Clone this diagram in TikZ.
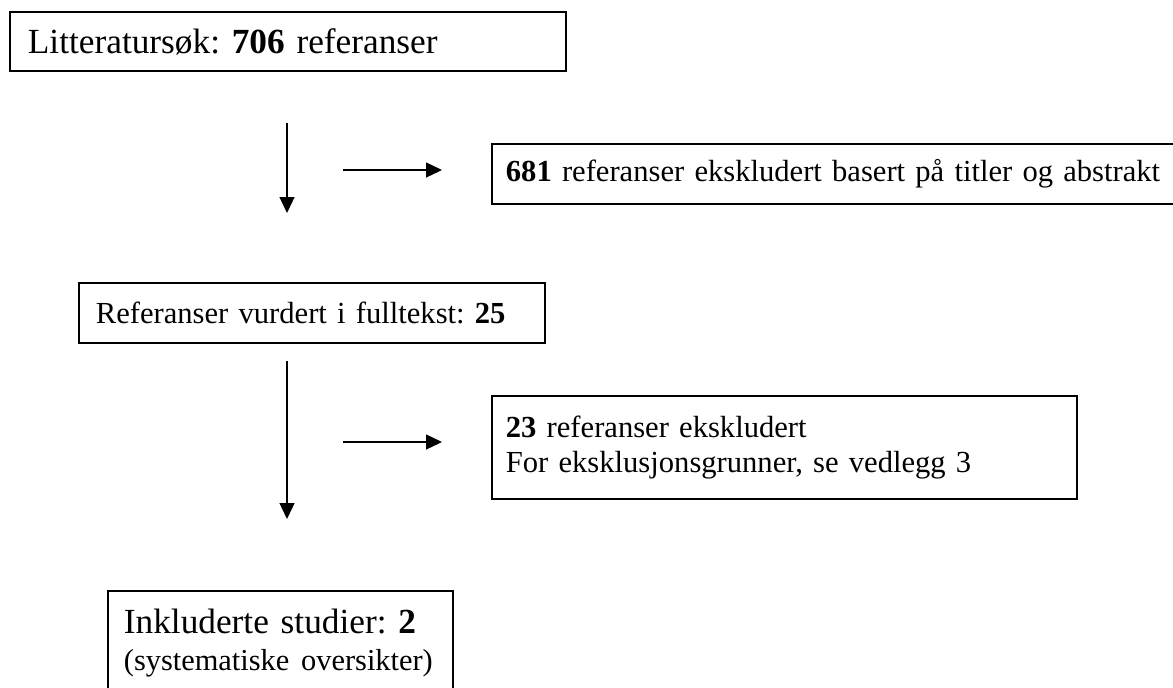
\documentclass[tikz,border=0pt]{standalone}
\usepackage{fontspec}
\setmainfont{Liberation Serif}
\usetikzlibrary{arrows.meta}
\tikzset{
  flowbox/.style={draw, line width=1.8pt, anchor=north west, inner ysep=0pt, align=left},
  bigtext/.style={font=\fontsize{35.3}{37}\selectfont\frenchspacing},
  smalltext/.style={font=\fontsize{30.6}{34.5}\selectfont\frenchspacing},
  flowarrow/.style={line width=1.3pt, -{Triangle[length=16pt,width=15pt]}}
}
\begin{document}
\begin{tikzpicture}[x=1pt,y=-1pt]
\useasboundingbox (0,0) rectangle (1173,688);
\fill[white] (0,0) rectangle (1173,688);
% boxes
\node[flowbox, bigtext, inner xsep=18pt, text width=520pt, minimum height=59pt] (search) at (9,11)
  {\mbox{Litteraturs\o k: \textbf{706} referanser}};
\node[flowbox, smalltext, inner xsep=14pt, text width=654pt, minimum height=60pt] (excl1) at (491,143)
  {\mbox{\textbf{681} referanser ekskludert basert på titler og abstrakt}};
\node[flowbox, smalltext, inner xsep=17pt, text width=432pt, minimum height=60pt] (full) at (78,282)
  {\mbox{Referanser vurdert i fulltekst: \textbf{25}}};
\node[flowbox, smalltext, inner xsep=14pt, text width=557pt, minimum height=103pt] (excl2) at (491,395)
  {\mbox{\textbf{23} referanser ekskludert}\\\mbox{For eksklusjonsgrunner, se vedlegg 3}};
\node[flowbox, bigtext, inner xsep=16pt, text width=313pt, minimum height=104pt] (incl) at (107,590)
  {\mbox{Inkluderte studier: \textbf{2}}\\\mbox{\fontsize{30.4}{37}\selectfont (systematiske oversikter)}};
% arrow end points
\coordinate (d1s) at (287,123);
\coordinate (d1e) at (287,213);
\coordinate (h1s) at (343,170);
\coordinate (h1e) at (442,170);
\coordinate (d2s) at (287,361);
\coordinate (d2e) at (287,519);
\coordinate (h2s) at (343,442);
\coordinate (h2e) at (442,442);
\draw[flowarrow] (d1s) -- (d1e);
\draw[flowarrow] (h1s) -- (h1e);
\draw[flowarrow] (d2s) -- (d2e);
\draw[flowarrow] (h2s) -- (h2e);
\end{tikzpicture}
\end{document}
